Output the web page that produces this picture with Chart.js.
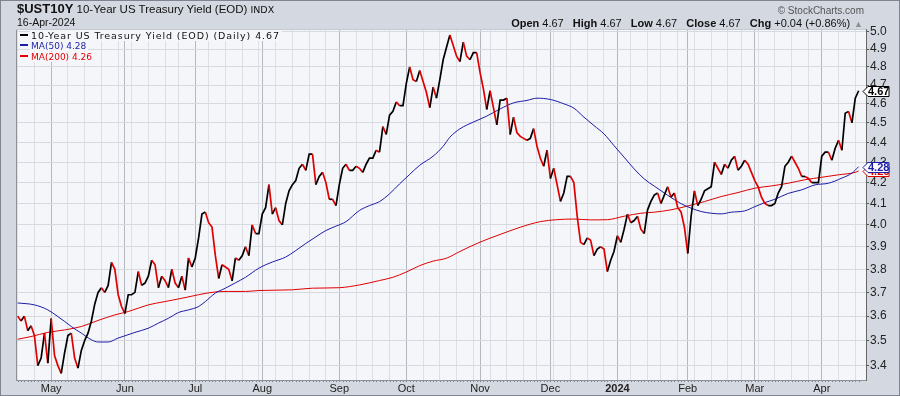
<!DOCTYPE html>
<html>
<head>
<meta charset="utf-8">
<script src="https://cdn.jsdelivr.net/npm/chart.js@4.4.1/dist/chart.umd.min.js"></script>
<style>
html,body{margin:0;padding:0;}
body{width:900px;height:396px;overflow:hidden;font-family:"Liberation Sans",Arial,sans-serif;}
#wrap{position:relative;width:900px;height:396px;box-sizing:border-box;border:1px solid #7f848e;background:#d4d8e1;}
#c{position:absolute;left:-1px;top:-1px;}
.abs{position:absolute;white-space:nowrap;color:#111;}
#sym{left:16px;top:0px;line-height:16px;font-size:11.5px;}
#sym b{font-size:13px;}
#sym .ix{font-family:"DejaVu Sans",sans-serif;font-size:9.5px;margin-left:3px;}
#dt{left:16px;top:15px;line-height:13px;font-size:10.5px;}
#copy{right:35px;top:3px;line-height:13px;font-size:10px;color:#555;}
#ohlc{right:36px;top:16px;line-height:13px;font-size:11px;}
#ohlc b{margin-left:6px;}
#ohlc .tri{color:#8a8f99;font-size:9px;margin-left:4px;}
#legend{left:19px;top:29px;font-family:"DejaVu Sans",sans-serif;font-size:9px;}
#legend div{line-height:11px;height:11px;}
#legend div.first{font-size:9.5px;letter-spacing:0.9px;}
#legend span.t{background:#f5f6fa;padding:0 2px 0 1px;}
#legend i{display:inline-block;width:8px;height:2px;vertical-align:3px;margin-right:2px;}
</style>
</head>
<body>
<div id="wrap">
  <canvas id="c" width="900" height="396"></canvas>
  <div class="abs" id="sym"><b>$UST10Y</b> 10-Year US Treasury Yield (EOD)<span class="ix">INDX</span></div>
  <div class="abs" id="dt">16-Apr-2024</div>
  <div class="abs" id="copy">&copy; StockCharts.com</div>
  <div class="abs" id="ohlc"></div>
  <div class="abs" id="legend"></div>
</div>
<script>
// daily closes, trading days 17-Apr-2023 .. 16-Apr-2024 (index 0..251)
const closes = [
  3.60,3.58,3.60,3.54,3.56,3.52,3.40,3.43,3.53,3.41,
  3.59,3.44,3.40,3.37,3.45,3.52,3.53,3.43,3.39,3.46,
  3.50,3.53,3.58,3.65,3.70,3.72,3.70,3.73,3.83,3.80,
  3.69,3.64,3.61,3.69,3.69,3.70,3.79,3.73,3.74,3.77,
  3.84,3.82,3.72,3.77,3.75,3.72,3.80,3.74,3.72,3.77,
  3.71,3.85,3.81,3.85,3.94,4.05,4.06,4.01,3.99,3.86,
  3.76,3.82,3.81,3.80,3.75,3.85,3.84,3.86,3.90,3.86,
  4.00,3.96,3.96,4.05,4.08,4.19,4.05,4.08,4.02,4.00,
  4.10,4.16,4.19,4.21,4.27,4.29,4.26,4.34,4.34,4.19,
  4.23,4.25,4.20,4.12,4.12,4.09,4.19,4.27,4.29,4.26,
  4.26,4.28,4.27,4.25,4.29,4.32,4.32,4.36,4.35,4.48,
  4.44,4.54,4.56,4.61,4.59,4.59,4.71,4.80,4.73,4.72,
  4.78,4.72,4.66,4.58,4.69,4.63,4.73,4.84,4.91,4.98,
  4.92,4.86,4.83,4.94,4.86,4.84,4.88,4.88,4.77,4.68,
  4.57,4.67,4.58,4.49,4.62,4.62,4.63,4.44,4.53,4.45,
  4.43,4.42,4.41,4.42,4.47,4.38,4.32,4.28,4.36,4.22,
  4.27,4.19,4.11,4.15,4.23,4.23,4.20,4.04,3.92,3.91,
  3.94,3.93,3.86,3.89,3.90,3.89,3.79,3.84,3.88,3.95,
  3.92,3.98,4.05,4.01,4.02,4.04,3.98,3.96,4.07,4.11,
  4.14,4.15,4.10,4.14,4.18,4.13,4.15,4.08,4.06,3.99,
  3.87,4.04,4.16,4.09,4.12,4.16,4.17,4.18,4.30,4.27,
  4.24,4.29,4.27,4.31,4.33,4.26,4.28,4.31,4.29,4.25,
  4.21,4.18,4.13,4.10,4.09,4.09,4.10,4.15,4.18,4.28,
  4.30,4.33,4.30,4.27,4.23,4.23,4.22,4.20,4.20,4.20,
  4.33,4.35,4.35,4.31,4.37,4.41,4.36,4.55,4.56,4.50,
  4.63,4.67
];

// moving averages (day index, value)
const ma50Idx = [0,5,9,12,14,16,19,22,24,27,30,32,35,39,42,45,48,51,54,56,59,62,65,68,72,76,80,83,86,89,92,95,98,102,105,108,111,114,117,120,124,127,129,132,136,140,144,148,152,155,159,163,166,169,172,175,178,181,184,187,190,194,198,201,204,207,210,213,217,220,223,226,230,234,238,242,246,249,251];
const ma50Val = [3.655,3.647,3.626,3.598,3.578,3.557,3.530,3.503,3.494,3.494,3.510,3.519,3.533,3.550,3.571,3.591,3.615,3.626,3.640,3.661,3.697,3.718,3.741,3.765,3.805,3.832,3.854,3.883,3.915,3.945,3.974,3.994,4.015,4.067,4.090,4.109,4.146,4.194,4.240,4.285,4.330,4.380,4.426,4.469,4.504,4.535,4.573,4.605,4.618,4.630,4.623,4.600,4.577,4.530,4.486,4.443,4.383,4.325,4.267,4.218,4.183,4.139,4.099,4.078,4.062,4.054,4.051,4.059,4.065,4.085,4.104,4.120,4.148,4.165,4.189,4.197,4.222,4.246,4.278];
const ma200Idx = [0,4,9,14,19,24,29,33,39,44,49,54,59,63,68,72,82,88,96,102,108,112,116,120,124,128,132,138,144,150,156,161,166,171,176,181,186,190,195,200,205,210,215,220,225,230,235,240,245,250,251];
const ma200Val = [3.505,3.516,3.533,3.543,3.557,3.582,3.605,3.619,3.647,3.661,3.675,3.690,3.702,3.704,3.704,3.708,3.711,3.718,3.720,3.732,3.751,3.765,3.788,3.816,3.836,3.849,3.879,3.921,3.956,3.989,4.015,4.024,4.027,4.023,4.024,4.040,4.054,4.059,4.070,4.088,4.109,4.133,4.152,4.173,4.184,4.197,4.214,4.226,4.238,4.250,4.257];

// x axis: first trading day of each month, and of each week
const monthIdx = [10,32,53,73,96,116,138,159,179,200,220,240];
const monthLabels = ['May','Jun','Jul','Aug','Sep','Oct','Nov','Dec','2024','Feb','Mar','Apr'];
const weekIdx = [0,5,15,20,25,30,34,39,44,48,57,62,67,72,77,82,87,92,101,106,111,121,126,131,136,141,146,151,155,160,165,170,175,183,188,192,197,202,207,212,216,221,226,231,236,245,250];
const yTicks = [3.4,3.5,3.6,3.7,3.8,3.9,4.0,4.1,4.2,4.3,4.4,4.5,4.6,4.7,4.8,4.9,5.0];

const UP = '#000000', DOWN = '#e00000', BLUE = '#1c1ca6', RED = '#e00000';
const last = closes[closes.length-1], prev = closes[closes.length-2];
const lastMa50 = ma50Val[ma50Val.length-1], lastMa200 = ma200Val[ma200Val.length-1];

// header + legend texts
const chg = last - prev;
const sign = chg >= 0 ? '+' : '';
document.getElementById('ohlc').innerHTML =
  `<b style="margin-left:0">Open</b> ${last.toFixed(2)} <b>High</b> ${last.toFixed(2)} <b>Low</b> ${last.toFixed(2)} <b>Close</b> ${last.toFixed(2)} <b>Chg</b> ${sign}${chg.toFixed(2)} (${sign}${(chg/prev*100).toFixed(2)}%)<span class="tri">&#9650;</span>`;
document.getElementById('legend').innerHTML =
  `<div class="first"><i style="background:#000"></i><span class="t">10-Year US Treasury Yield (EOD) (Daily) ${last.toFixed(2)}</span></div>`+
  `<div><i style="background:${BLUE}"></i><span class="t" style="color:${BLUE}">MA(50) ${lastMa50.toFixed(2)}</span></div>`+
  `<div><i style="background:${RED}"></i><span class="t" style="color:${RED}">MA(200) ${lastMa200.toFixed(2)}</span></div>`;

Chart.defaults.font.family = '"Liberation Sans", Arial, sans-serif';

const plotBg = {
  id:'plotBg',
  beforeDraw(chart){
    const {ctx, chartArea:a} = chart;
    ctx.save();
    ctx.fillStyle = '#f5f6fa';
    ctx.fillRect(a.left, a.top, a.right-a.left, a.bottom-a.top);
    ctx.restore();
  },
  afterDraw(chart){
    const {ctx, chartArea:a, scales} = chart;
    ctx.save();
    // frame
    ctx.fillStyle = '#8d919a';
    ctx.fillRect(a.left, a.top, 1, a.bottom-a.top);
    ctx.fillStyle = '#c4c8d0';
    ctx.fillRect(a.left, a.top, a.right-a.left, 1);
    // daily marks under the bottom edge
    ctx.fillStyle = '#80848d';
    closes.forEach((v,i)=>{
      const x = Math.round(scales.x.getPixelForValue(i));
      ctx.fillRect(x, a.bottom+1, 1, 1);
    });
    // value tags on the right axis
    const tag = (val, col, txtCol) => {
      const y = Math.round(scales.y.getPixelForValue(val)) + 0.5;
      const x0 = a.right - 3;
      ctx.beginPath();
      ctx.moveTo(x0, y);
      ctx.lineTo(x0+5, y-5);
      ctx.lineTo(x0+26, y-5);
      ctx.lineTo(x0+26, y+5);
      ctx.lineTo(x0+5, y+5);
      ctx.closePath();
      ctx.fillStyle = '#ffffff';
      ctx.fill();
      ctx.strokeStyle = col;
      ctx.lineWidth = 1;
      ctx.stroke();
      ctx.fillStyle = txtCol;
      ctx.font = 'bold 11px "Liberation Sans", Arial';
      ctx.textBaseline = 'middle';
      ctx.textAlign = 'left';
      ctx.fillText(val.toFixed(2), x0+5, y+0.5);
    };
    tag(lastMa200, RED, RED);
    tag(lastMa50, BLUE, BLUE);
    tag(last, '#000', '#000');
    ctx.restore();
  }
};

new Chart(document.getElementById('c'), {
  type:'line',
  data:{
    datasets:[
      {label:'Close', data: closes.map((y,i)=>({x:i,y})), borderWidth:1.7, borderColor:UP,
       pointRadius:0, order:0,
       segment:{borderColor: c => c.p1.parsed.y < c.p0.parsed.y ? DOWN : UP}},
      {label:'MA(50)', data: ma50Idx.map((x,i)=>({x, y:ma50Val[i]})), borderWidth:1, borderColor:BLUE,
       pointRadius:0, cubicInterpolationMode:'monotone', order:1},
      {label:'MA(200)', data: ma200Idx.map((x,i)=>({x, y:ma200Val[i]})), borderWidth:1, borderColor:RED,
       pointRadius:0, cubicInterpolationMode:'monotone', order:2}
    ]
  },
  options:{
    responsive:false, animation:false, devicePixelRatio:1,
    layout:{padding:{left:16, top:29, right:0, bottom:0}},
    plugins:{legend:{display:false}, tooltip:{enabled:false}},
    scales:{
      x:{
        type:'linear', bounds:'data', min:-0.5, max:253.2,
        afterBuildTicks(s){ s.ticks = monthIdx.concat(weekIdx).sort((a,b)=>a-b).map(v=>({value:v})); },
        afterFit(s){ s.height = 16; },
        grid:{drawTicks:false, color: c => (c.tick && monthIdx.includes(c.tick.value)) ? '#b3b7c0' : '#dcdfe6'},
        border:{color:'#8d919a'},
        ticks:{
          autoSkip:false, maxRotation:0, padding:2, color:'#222',
          font: c => ({size:11, weight: (c.tick && c.tick.value===179) ? 'bold' : 'normal'}),
          callback: v => { const k = monthIdx.indexOf(v); return k<0 ? '' : monthLabels[k]; }
        }
      },
      y:{
        type:'logarithmic', position:'right', bounds:'data', min:3.344, max:5.015,
        afterBuildTicks(s){ s.ticks = yTicks.map(v=>({value:v})); },
        afterFit(s){ s.width = 34; },
        grid:{color:'#d6d9e0', tickLength:3, tickColor:'#555'},
        border:{color:'#666'},
        ticks:{padding:1, color:'#222', font:{size:12}, callback: v => Number(v).toFixed(1)}
      }
    }
  },
  plugins:[plotBg]
});
</script>
</body>
</html>
